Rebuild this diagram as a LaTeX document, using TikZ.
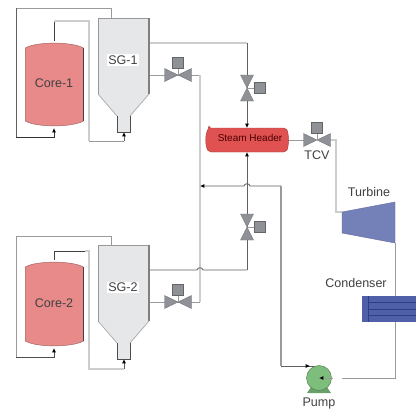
\documentclass[tikz,border=0pt]{standalone}
\usepackage{fontspec}
\setmainfont{Liberation Sans}
\usetikzlibrary{arrows.meta}
\definecolor{pdark}{HTML}{606060}
\definecolor{pmid}{HTML}{9A9A9A}
\definecolor{plight}{HTML}{CBCDCF}
\definecolor{vgray}{HTML}{8E9196}
\definecolor{corefill}{HTML}{E88A8A}
\definecolor{sgfill}{HTML}{E6E7E9}
\definecolor{hdrfill}{HTML}{E05252}
\definecolor{turbfill}{HTML}{7480B8}
\definecolor{condfill}{HTML}{4F5FA8}
\definecolor{conddark}{HTML}{2F3C8A}
\definecolor{pumpfill}{HTML}{7DBE7D}
\tikzset{
  pd/.style={draw=pdark,line width=0.6pt},
  pm/.style={draw=pmid,line width=0.65pt},
  pl/.style={draw=plight,line width=0.9pt},
  tipd/.style={-{Latex[length=3.2pt,width=3pt,black]}},
  valvebody/.style={fill=vgray,draw=vgray!80!black,line width=0.3pt},
  act/.style={fill=vgray,draw=vgray!70!black,line width=0.3pt},
  lab/.style={font=\fontsize{9.4pt}{11pt}\selectfont,text=black!75,inner sep=1pt},
}
\newcommand{\hvalve}[2]{%
  \fill[valvebody] (#1-13.5,#2-6.5) -- (#1+13.5,#2+6.5) -- (#1+13.5,#2-6.5) -- (#1-13.5,#2+6.5) -- cycle;
  \draw[pm] (#1,#2) -- (#1,#2-8);
  \draw[act] (#1-5.5,#2-18) rectangle (#1+5.5,#2-7);}
\newcommand{\vvalve}[2]{%
  \fill[valvebody] (#1-6.5,#2-13) -- (#1+6.5,#2+13) -- (#1-6.5,#2+13) -- (#1+6.5,#2-13) -- cycle;
  \draw[pm] (#1,#2) -- (#1+8,#2);
  \draw[act] (#1+7,#2-5.5) rectangle (#1+18,#2+5.5);}
\newcommand{\coreshape}[2]{% top, bottom
  \fill[corefill] (25.3,#1+7) .. controls (36,#1+0.5) and (72,#1+0.5) .. (83.5,#1+7)
     -- (83.5,#2-7) .. controls (72,#2-0.5) and (36,#2-0.5) .. (25.3,#2-7) -- cycle;
  \draw[draw=corefill!70!black,line width=0.35pt] (25.3,#2-7) -- (25.3,#1+7) .. controls (36,#1+0.5) and (72,#1+0.5) .. (83.5,#1+7);
  \draw[draw=corefill!70!black,line width=0.35pt] (25.3,#2-7) .. controls (36,#2-0.5) and (72,#2-0.5) .. (83.5,#2-7);
  \draw[draw=black!75,line width=0.6pt] (83.5,#1+7) -- (83.5,#2-7);}
\newcommand{\sgshape}[4]{% top, conestart, necktop, bottom
  \fill[sgfill] (98,#1) -- (149,#1) -- (149,#2) -- (130,#3) -- (130,#4) -- (117,#4) -- (117,#3) -- (98,#2) -- cycle;
  \draw[draw=black!40,line width=0.6pt] (98,#2) -- (98,#1) -- (149,#1);
  \draw[draw=black!50,line width=0.9pt] (149,#1) -- (149,#2);
  \draw[draw=black!35,line width=0.5pt] (149,#2) -- (130,#3);
  \draw[draw=black!35,line width=0.5pt] (98,#2) -- (117,#3);
  \draw[draw=black!70,line width=0.55pt] (130,#3) -- (130,#4) -- (117,#4) -- (117,#3);}
\begin{document}
\begin{tikzpicture}[x=0.75pt,y=-0.75pt]
\useasboundingbox (0,0) rectangle (416,412);
\fill[white] (0,0) rectangle (416,412);
% named end points
\coordinate (sgoneTop) at (111,18);
\coordinate (coreoneTop) at (54,41);
\coordinate (coreoneBot) at (54,128);
\coordinate (sgoneBot) at (124,132);
\coordinate (sgtwoTop) at (111,245);
\coordinate (coretwoTop) at (54,260);
\coordinate (coretwoBot) at (54,348);
\coordinate (sgtwoBot) at (124,359);
\coordinate (sgoneOutA) at (149,43);
\coordinate (sgoneOutB) at (149,75);
\coordinate (sgtwoOutA) at (149,270);
\coordinate (sgtwoOutB) at (149,302);
\coordinate (hdrTop) at (247,128);
\coordinate (hdrBot) at (247,152);
\coordinate (hdrRight) at (288,140);
\coordinate (turbIn) at (342,212);
\coordinate (turbOut) at (395,243);
\coordinate (condTop) at (395,296);
\coordinate (condBot) at (395,322);
\coordinate (pumpC) at (319,378);
\coordinate (pumpTop) at (319,366);
\coordinate (mixJoin) at (200,186);
% pipes, loop 1
\draw[pm] (sgoneTop) -- (111,8) -- (16,8);
\draw[pd] (16,8) -- (16,137);
\draw[draw=black!80,line width=0.6pt,tipd] (16,137) -- (54,137) -- (coreoneBot);
\draw[draw=black!75,line width=0.6pt] (coreoneTop) -- (54,21);
\draw[pl] (54,21) -- (89,21) -- (89,141);
\draw[pm] (89,141) -- (124,141);
\draw[pd,tipd] (124,141) -- (sgoneBot);
% pipes, loop 2
\draw[pm] (sgtwoTop) -- (111,236) -- (16,236) -- (16,357);
\draw[draw=black!70,line width=0.6pt,tipd] (16,357) -- (54,357) -- (coretwoBot);
\draw[draw=black!75,line width=0.6pt] (coretwoTop) -- (54,251) -- (85,251);
\draw[pl] (85,251) -- (89,251) -- (89,369) -- (124,369);
\draw[pd,tipd] (124,369) -- (sgtwoBot);
% steam lines
\draw[pl] (sgoneOutA) -- (247,43);
\draw[pd,tipd] (247,43) -- (hdrTop);
\draw[pm] (sgoneOutB) -- (200,75);
\draw[pl] (200,75) -- (200,302);
\draw[pm] (200,302) -- (sgtwoOutB);
\draw[pd] (sgtwoOutA) -- (197,270) .. controls (197.5,267) and (202.5,267) .. (203,270) -- (247,270);
\draw[pd,tipd] (247,270) -- (hdrBot);
% feedwater
\draw[pd,tipd] (281,186) -- (250,186) .. controls (249.5,183) and (244.5,183) .. (244,186) -- (mixJoin);
\draw[draw=pmid,line width=1pt] (281,186) -- (281,366);
\draw[pd] (281,366) -- (pumpTop);
\draw[pd,tipd] (281,366) -- (310,366);
% turbine side
\draw[pm] (hdrRight) -- (304,140);
\draw[pl] (330,140) -- (336,140) -- (336,212) -- (turbIn);
\draw[pm] (turbOut) -- (condTop);
\draw[pm] (condBot) -- (395,378) -- (342,378);
% equipment
\coreshape{41}{128}
\coreshape{260}{348}
\sgshape{18}{94}{116}{132}
\sgshape{245}{321}{343}{359}
\hvalve{178}{75}
\hvalve{178}{302}
\hvalve{317}{140}
\vvalve{247}{88}
\vvalve{247}{227}
% header
\filldraw[fill=hdrfill,draw=hdrfill!75!black,line width=0.35pt,rounded corners=1.5pt]
  (209,128) -- (286,128) .. controls (289,134) and (289,146) .. (286,152) -- (209,152) .. controls (205,146) and (205,134) .. (209,128) -- cycle;
% turbine
\filldraw[fill=turbfill,draw=turbfill!85!black,line width=0.3pt] (342,212) -- (395,202) -- (395,243) -- (342,233) -- cycle;
% condenser
\fill[condfill] (362,296) rectangle (416,322);
\draw[draw=conddark,line width=0.6pt] (368,296) -- (368,322);
\draw[draw=conddark,line width=0.7pt] (368,302.5) -- (416,302.5) (368,309) -- (416,309) (368,315.5) -- (416,315.5);
% pump
\fill[pumpfill!85!black] (307,393) -- (311,387) -- (327,387) -- (331,393) -- cycle;
\filldraw[fill=pumpfill,draw=pumpfill!65!black,line width=0.35pt] (pumpC) circle (12.5);
\draw[pm,tipd] (333,378) -- (pumpC);
% labels
\node[lab] (coreoneL) at (54,83) {Core-1};
\node[lab] (coretwoL) at (54,303) {Core-2};
\node[lab,fill=white] (sgoneL) at (123,60) {SG-1};
\node[lab,fill=white] (sgtwoL) at (123,287.5) {SG-2};
\node[font=\fontsize{7.5pt}{9pt}\selectfont,text=red!30!black,inner sep=0pt] (hdrL) at (250,138) {Steam Header};
\node[lab] (tcvL) at (317,155.5) {TCV};
\node[lab] (turbL) at (369,192) {Turbine};
\node[lab] (condL) at (356,283) {Condenser};
\node[lab] (pumpL) at (319,403) {Pump};
\end{tikzpicture}
\end{document}
